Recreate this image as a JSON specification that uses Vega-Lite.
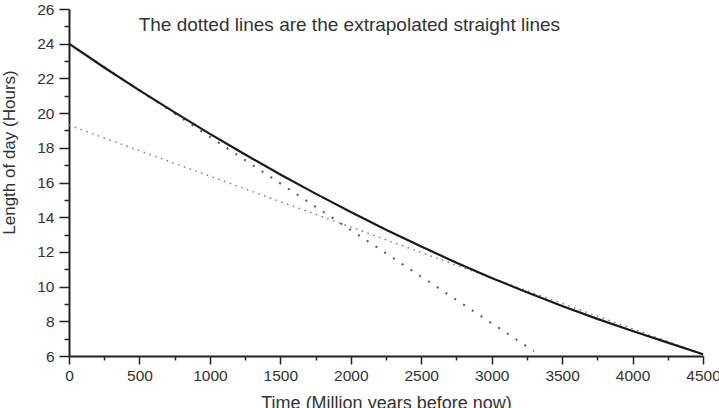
{
  "$schema": "https://vega.github.io/schema/vega-lite/v6.json",
  "autosize": {"type": "none"},
  "padding": {"left": 69, "top": 9, "right": 16, "bottom": 52},
  "width": 634,
  "height": 347,
  "background": "white",
  "config": {"view": {"stroke": null}, "font": "Liberation Sans"},
  "datasets": {
    "curve": [
      {"t": 0, "h": 24.0},
      {"t": 250, "h": 22.63},
      {"t": 500, "h": 21.31},
      {"t": 750, "h": 20.04},
      {"t": 1000, "h": 18.8},
      {"t": 1250, "h": 17.61},
      {"t": 1500, "h": 16.46},
      {"t": 1750, "h": 15.36},
      {"t": 2000, "h": 14.3},
      {"t": 2250, "h": 13.28},
      {"t": 2500, "h": 12.31},
      {"t": 2750, "h": 11.38},
      {"t": 3000, "h": 10.5},
      {"t": 3250, "h": 9.67},
      {"t": 3500, "h": 8.88},
      {"t": 3750, "h": 8.14},
      {"t": 4000, "h": 7.44},
      {"t": 4250, "h": 6.77},
      {"t": 4500, "h": 6.1}
    ],
    "steep": [
      {"t": 0, "h": 24.0},
      {"t": 3300, "h": 6.28}
    ],
    "shallow": [
      {"t": 0, "h": 19.3},
      {"t": 4500, "h": 6.1}
    ],
    "note": [
      {"t": 1990, "h": 24.75, "label": "The dotted lines are the extrapolated straight lines"}
    ]
  },
  "layer": [
    {
      "data": {"name": "curve"},
      "mark": {"type": "line", "opacity": 0},
      "encoding": {
        "x": {"field": "t", "type": "quantitative", "scale": {"domain": [0, 4500], "nice": false},
          "axis": {"orient": "bottom", "values": [250, 750, 1250, 1750, 2250, 2750, 3250, 3750, 4250], "labels": false, "domain": false, "grid": false, "tickSize": 4, "tickWidth": 1.5, "tickColor": "#222", "title": null}},
        "y": {"field": "h", "type": "quantitative", "scale": {"domain": [6, 26], "nice": false},
          "axis": {"orient": "left", "values": [7, 9, 11, 13, 15, 17, 19, 21, 23, 25], "labels": false, "domain": false, "grid": false, "tickSize": 5, "tickWidth": 1.5, "tickColor": "#222", "title": null}}
      }
    },
    {
      "data": {"name": "shallow"},
      "mark": {"type": "line", "color": "#808080", "strokeWidth": 1.4, "strokeDash": [1.6, 4.5]},
      "encoding": {
        "x": {"field": "t", "type": "quantitative", "axis": null},
        "y": {"field": "h", "type": "quantitative", "axis": null}
      }
    },
    {
      "data": {"name": "steep"},
      "mark": {"type": "line", "color": "#5a5a5a", "strokeWidth": 2, "strokeDash": [2, 8.5]},
      "encoding": {
        "x": {"field": "t", "type": "quantitative", "axis": null},
        "y": {"field": "h", "type": "quantitative", "axis": null}
      }
    },
    {
      "data": {"name": "curve"},
      "mark": {"type": "line", "color": "#1a1a1a", "strokeWidth": 2.2},
      "encoding": {
        "x": {"field": "t", "type": "quantitative",
          "axis": {"orient": "bottom", "values": [0, 500, 1000, 1500, 2000, 2500, 3000, 3500, 4000, 4500], "format": "d", "grid": false,
            "domainColor": "#222", "domainWidth": 2, "tickColor": "#222", "tickWidth": 1.5, "tickSize": 8,
            "labelFontSize": 15.5, "labelColor": "#333", "labelPadding": 4, "labelFlush": false,
            "title": "Time (Million years before now)", "titleFontSize": 18, "titleFontWeight": "normal", "titleColor": "#333",
            "titleBaseline": "alphabetic", "titleY": 52}},
        "y": {"field": "h", "type": "quantitative",
          "axis": {"orient": "left", "values": [6, 8, 10, 12, 14, 16, 18, 20, 22, 24, 26], "format": "d", "grid": false,
            "domainColor": "#222", "domainWidth": 2, "tickColor": "#222", "tickWidth": 1.5, "tickSize": 10,
            "labelFontSize": 15.5, "labelColor": "#333", "labelPadding": 5, "labelFlush": false,
            "title": "Length of day (Hours)", "titleFontSize": 17, "titleFontWeight": "normal", "titleColor": "#333",
            "titleAngle": -90, "titleAlign": "center", "titleBaseline": "middle", "titleX": -60, "titleY": 143}}
      }
    },
    {
      "data": {"name": "note"},
      "mark": {"type": "text", "fontSize": 19, "color": "#333", "baseline": "alphabetic", "align": "center"},
      "encoding": {
        "x": {"field": "t", "type": "quantitative", "axis": null},
        "y": {"field": "h", "type": "quantitative", "axis": null},
        "text": {"field": "label"}
      }
    }
  ],
  "resolve": {"axis": {"x": "independent", "y": "independent"}}
}
